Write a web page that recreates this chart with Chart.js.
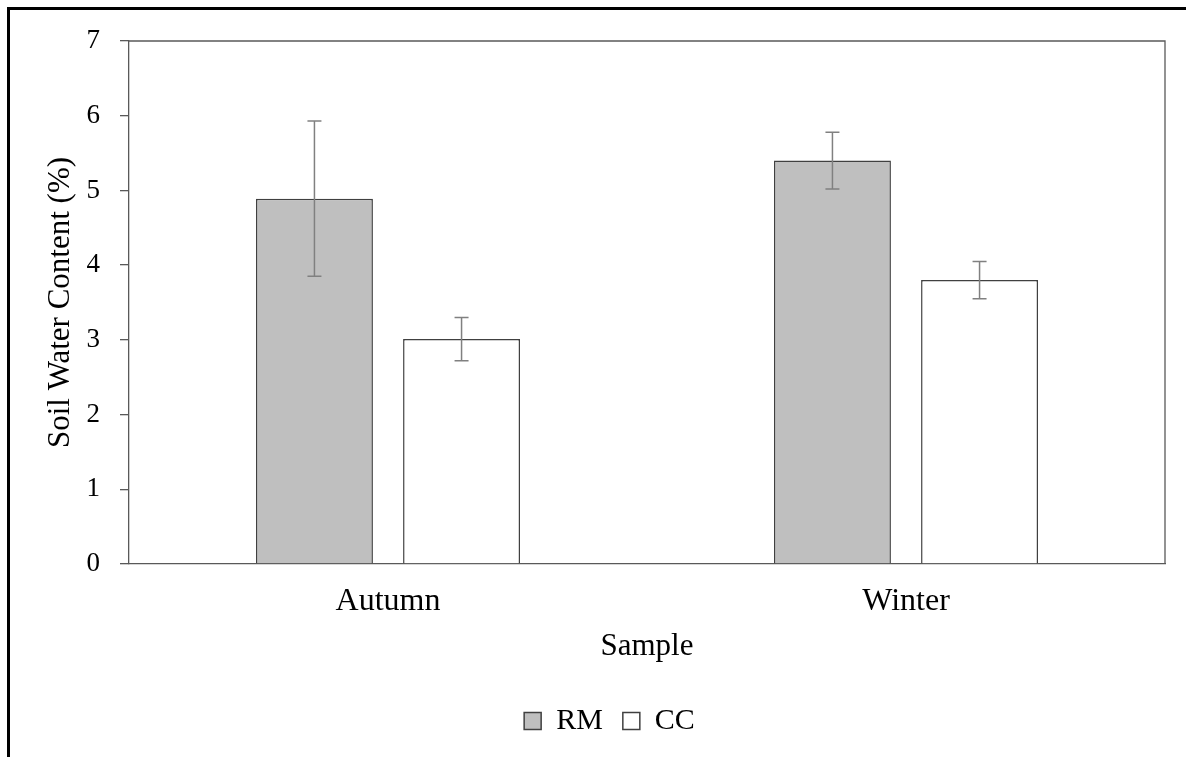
<!DOCTYPE html>
<html>
<head>
<meta charset="utf-8">
<script src="https://cdn.jsdelivr.net/npm/chart.js@4.4.1/dist/chart.umd.min.js"></script>
<style>
  html, body { margin: 0; padding: 0; background: #fff; }
  #wrap { position: relative; width: 1186px; height: 757px; }
  #frame { position: absolute; left: 7px; top: 7px; width: 1200px; height: 800px;
           border-left: 3px solid #000; border-top: 3px solid #000; }
  canvas { position: absolute; left: 0; top: 0; }
</style>
</head>
<body>
<div id="wrap">
  <div id="frame"></div>
  <canvas id="chart" width="1186" height="757"></canvas>
</div>
<script>
const categories = ['Autumn', 'Winter'];
const rmValues = [4.89, 5.40];
const rmErrors = [1.04, 0.38];
const ccValues = [3.01, 3.80];
const ccErrors = [0.29, 0.25];
const yTicks = [0, 1, 2, 3, 4, 5, 6, 7];

const serif = "'Liberation Serif', 'Times New Roman', serif";

// error bars drawn from the y scale
const errorBars = {
  id: 'errorBars',
  afterDatasetsDraw(chart) {
    const ctx = chart.ctx;
    const y = chart.scales.y;
    chart.data.datasets.forEach((ds, i) => {
      const meta = chart.getDatasetMeta(i);
      meta.data.forEach((bar, j) => {
        const v = ds.data[j];
        const e = ds.errors[j];
        const top = y.getPixelForValue(v + e);
        const bot = y.getPixelForValue(v - e);
        ctx.save();
        ctx.strokeStyle = '#808080';
        ctx.lineWidth = 1.5;
        ctx.beginPath();
        ctx.moveTo(bar.x, top); ctx.lineTo(bar.x, bot);
        ctx.moveTo(bar.x - 7, top); ctx.lineTo(bar.x + 7, top);
        ctx.moveTo(bar.x - 7, bot); ctx.lineTo(bar.x + 7, bot);
        ctx.stroke();
        ctx.restore();
      });
    });
  }
};

// box round the plot area
const plotBox = {
  id: 'plotBox',
  afterDraw(chart) {
    const a = chart.chartArea;
    const ctx = chart.ctx;
    ctx.save();
    ctx.strokeStyle = '#595959';
    ctx.lineWidth = 1.3;
    ctx.beginPath();
    ctx.moveTo(a.left, a.top); ctx.lineTo(a.right, a.top); ctx.lineTo(a.right, a.bottom);
    ctx.stroke();
    ctx.restore();
  }
};

new Chart(document.getElementById('chart'), {
  type: 'bar',
  data: {
    labels: categories,
    datasets: [
      {
        label: 'RM',
        data: rmValues,
        errors: rmErrors,
        backgroundColor: '#bfbfbf',
        borderColor: '#404040',
        borderWidth: 1.5
      },
      {
        label: 'CC',
        data: ccValues,
        errors: ccErrors,
        backgroundColor: '#ffffff',
        borderColor: '#404040',
        borderWidth: 1.5
      }
    ]
  },
  options: {
    responsive: false,
    animation: false,
    categoryPercentage: 0.568,
    barPercentage: 0.795,
    layout: { padding: { left: 54, top: 41, right: 21, bottom: 11 } },
    scales: {
      x: {
        afterFit(scale) { scale.height = 122; },
        grid: { display: false, drawTicks: false },
        border: { display: true, color: '#595959', width: 1.3 },
        ticks: { color: '#000', font: { family: serif, size: 32 }, padding: 18 },
        title: {
          display: true, text: 'Sample', color: '#000',
          font: { family: serif, size: 31 }, padding: { top: 0, bottom: 21 }
        }
      },
      y: {
        min: 0, max: 7,
        afterBuildTicks(scale) { scale.ticks = yTicks.map(v => ({ value: v })); },
        afterFit(scale) { scale.width = 75; },
        grid: { drawOnChartArea: false, drawTicks: true, tickLength: 9, color: '#595959', lineWidth: 1.3 },
        border: { display: true, color: '#595959', width: 1.3 },
        ticks: { color: '#000', font: { family: serif, size: 27 }, padding: 20 },
        title: {
          display: true, text: 'Soil Water Content (%)', color: '#000',
          font: { family: serif, size: 31 }, padding: { top: -11.6, bottom: 0 }
        }
      }
    },
    plugins: {
      legend: {
        position: 'bottom',
        labels: {
          color: '#000',
          font: { family: serif, size: 30 },
          boxWidth: 17, boxHeight: 17, padding: 20
        }
      },
      tooltip: { enabled: false }
    }
  },
  plugins: [errorBars, plotBox]
});
</script>
</body>
</html>
